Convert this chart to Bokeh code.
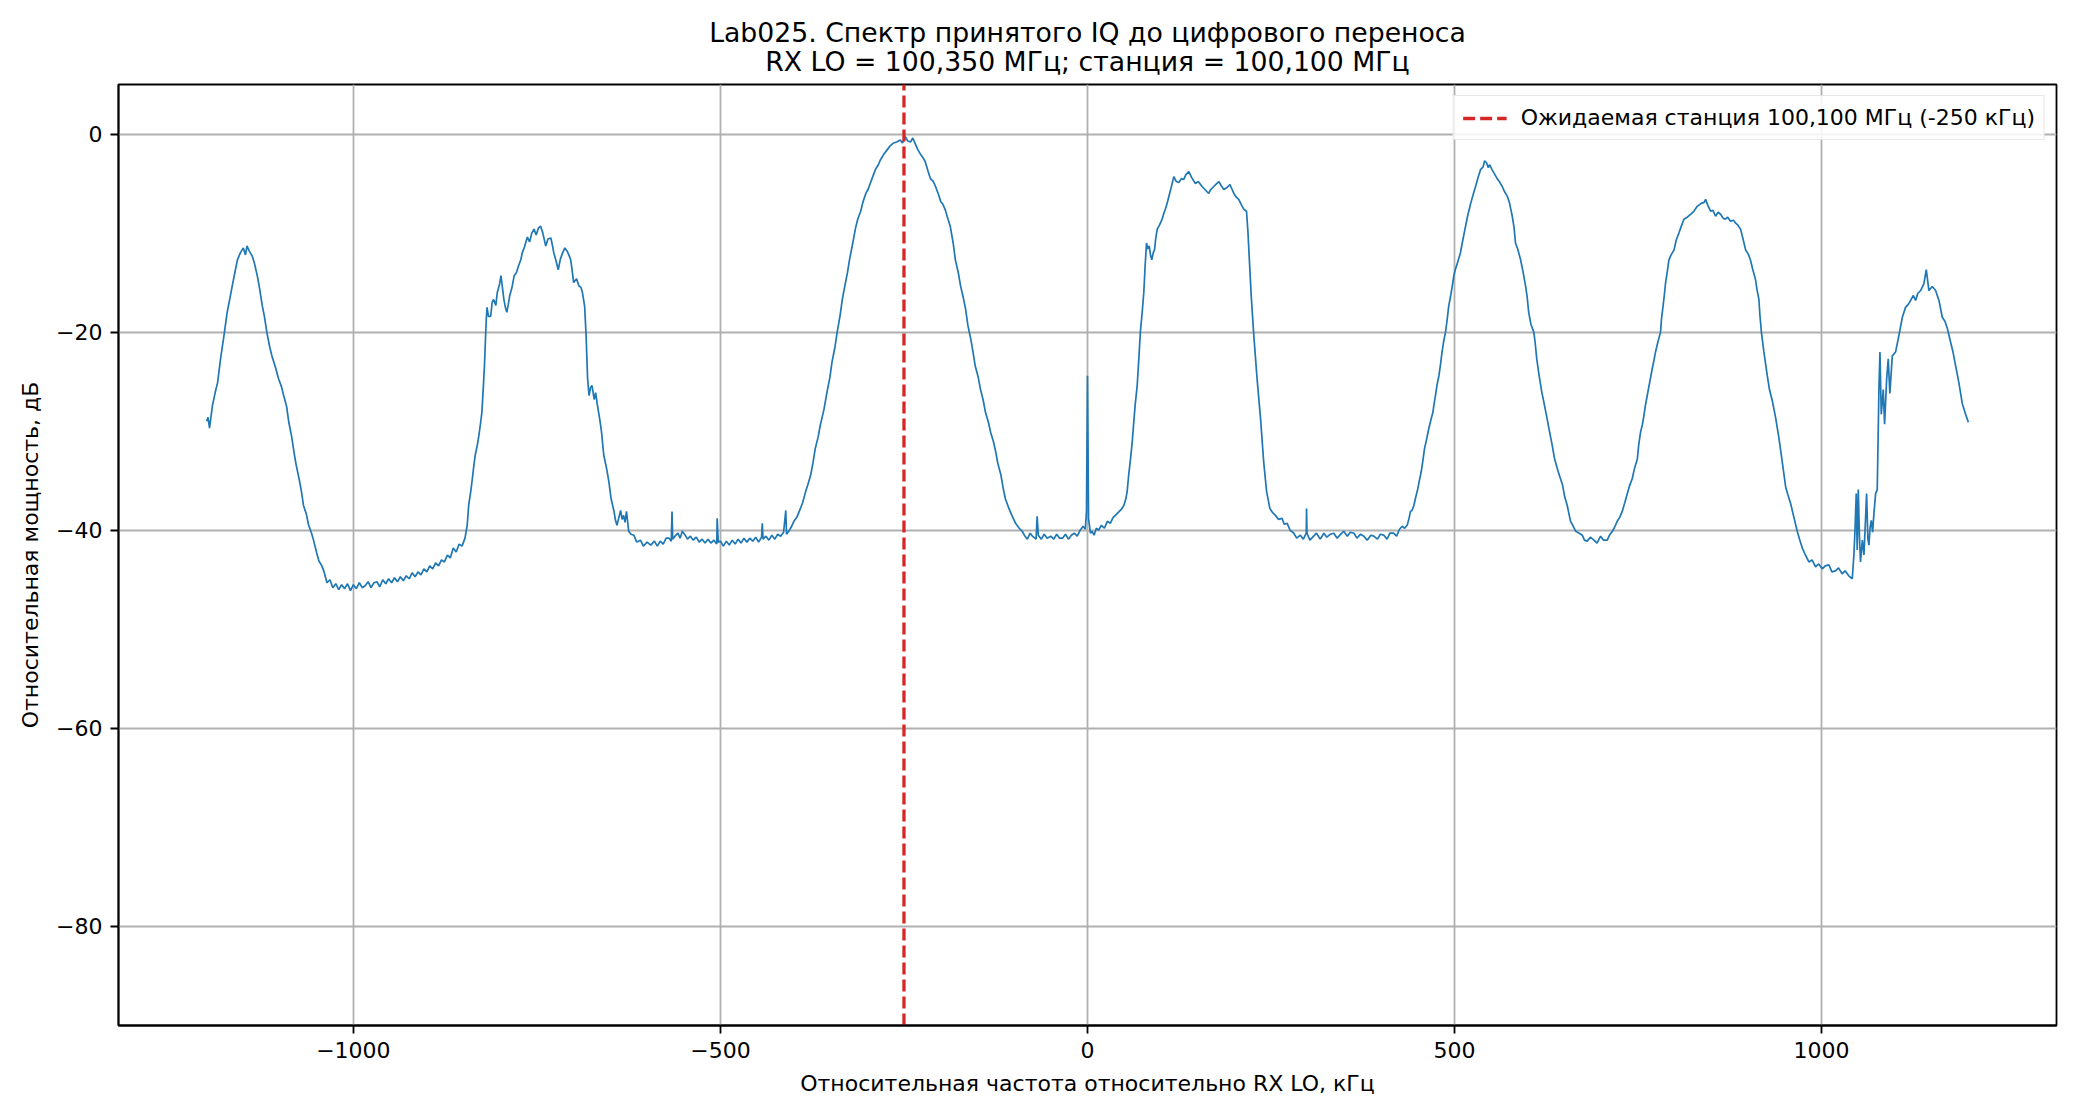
from bokeh.plotting import figure
from bokeh.models import Range1d, FixedTicker, Legend, LegendItem, Title
from bokeh.embed import file_html
from bokeh.resources import INLINE

# ---------------- texts ----------------
TITLE_LINE_1 = "Lab025. Спектр принятого IQ до цифрового переноса"
TITLE_LINE_2 = "RX LO = 100,350 МГц; станция = 100,100 МГц"
X_LABEL = "Относительная частота относительно RX LO, кГц"
Y_LABEL = "Относительная мощность, дБ"
LEGEND_LABEL = "Ожидаемая станция 100,100 МГц (-250 кГц)"

# ---------------- data ----------------
STATION_KHZ = -250
X_TICKS = [-1000, -500, 0, 500, 1000]
Y_TICKS = [-80, -60, -40, -20, 0]
Y_LIMITS = (-90, 5)

# (frequency kHz, power dB)
SPEC_1 = [(-1200, -29.0), (-1198, -28.6), (-1196, -29.7), (-1192, -27.4), (-1188, -26.0), (-1185, -25.1),
          (-1181, -22.7), (-1177, -20.7), (-1172, -18.0), (-1168, -16.5), (-1165, -15.3), (-1161, -13.8),
          (-1158, -12.7), (-1154, -12.0), (-1150, -11.5), (-1147, -12.2), (-1145, -11.3), (-1142, -11.8),
          (-1138, -12.3), (-1135, -13.0), (-1131, -14.3), (-1128, -15.5), (-1124, -17.4), (-1121, -18.5),
          (-1118, -20.0), (-1114, -21.5), (-1111, -22.4), (-1106, -23.6), (-1102, -24.7), (-1098, -25.5),
          (-1095, -26.4), (-1091, -27.5), (-1088, -29.1), (-1084, -30.6), (-1081, -32.1), (-1078, -33.4),
          (-1074, -34.8), (-1071, -36.0), (-1068, -37.5), (-1064, -38.4), (-1061, -39.5), (-1057, -40.3),
          (-1054, -41.1), (-1050, -42.3), (-1047, -43.1), (-1043, -43.6), (-1040, -44.2), (-1036, -45.3),
          (-1032, -45.0), (-1028, -45.8), (-1024, -45.4), (-1020, -46.0), (-1016, -45.5), (-1012, -45.9),
          (-1008, -45.4), (-1004, -46.1), (-1000, -45.5), (-996, -45.9), (-992, -45.3), (-988, -45.8),
          (-984, -45.6), (-980, -45.2), (-976, -45.8), (-972, -45.3), (-968, -45.2), (-964, -45.7),
          (-960, -45.0), (-956, -45.4), (-952, -44.9), (-948, -45.3), (-944, -44.8), (-940, -45.2),
          (-936, -44.7), (-932, -45.1), (-928, -44.6), (-924, -44.9), (-920, -44.3), (-916, -44.7),
          (-912, -44.2), (-908, -44.5), (-904, -43.9), (-900, -44.2), (-896, -43.6), (-892, -43.9),
          (-888, -43.3), (-884, -43.6), (-880, -43.0), (-876, -43.2), (-872, -42.5), (-868, -42.8),
          (-864, -41.8), (-860, -42.2), (-856, -41.4), (-852, -41.6), (-848, -40.8)]

SPEC_2 = [(-845, -39.5), (-843, -37.5), (-840, -36.0), (-838, -34.8), (-836, -33.5), (-834, -32.4),
          (-831, -31.3), (-829, -30.4), (-827, -29.3), (-825, -28.1), (-823, -25.5), (-821.5, -23.4),
          (-820, -20.5), (-819, -18.7), (-818, -17.5), (-816, -18.4), (-813, -18.4), (-811, -17.0),
          (-809, -16.7), (-806, -17.3), (-804, -16.0), (-801, -15.2), (-799, -14.3), (-797, -15.5),
          (-795, -16.7), (-793, -17.5), (-791, -18.0), (-789, -17.2), (-787, -16.3), (-784, -15.5),
          (-781, -14.3), (-778, -14.0), (-775, -13.3), (-772, -12.7), (-770, -12.0), (-767, -11.4),
          (-763, -10.4), (-760, -10.9), (-757, -10.0), (-754, -9.6), (-751, -10.2), (-748, -9.5),
          (-745, -9.3), (-742, -10.0), (-738, -11.3), (-735, -10.6), (-731, -10.5), (-729, -11.2),
          (-727, -12.0), (-724, -12.8), (-721, -13.7), (-718, -12.6), (-715, -12.0), (-712, -11.5),
          (-709, -11.8), (-706, -12.3), (-704, -12.7), (-702, -13.8), (-700, -15.0), (-696, -14.6),
          (-693, -15.3), (-690, -15.5), (-688, -16.0), (-685, -17.4), (-683, -20.4), (-681, -24.7),
          (-679, -26.4), (-677, -25.6), (-675, -25.4), (-672, -26.8), (-670, -26.1), (-668, -27.2),
          (-666, -28.1), (-664, -29.0), (-662, -30.1), (-659, -32.4), (-655, -33.8), (-652, -35.1),
          (-649, -36.8), (-645, -38.1), (-643, -39.0), (-641, -39.5), (-638, -38.6), (-636, -38.0),
          (-634, -38.9), (-632, -38.5), (-630, -39.2), (-628, -38.1), (-625, -40.1), (-622, -40.4),
          (-618, -40.5), (-614, -41.2), (-609, -41.0), (-605, -41.6), (-600, -41.2), (-595, -41.5),
          (-590, -41.1), (-586, -41.6), (-582, -41.1), (-578, -41.4), (-574, -40.8), (-570, -40.8),
          (-567, -41.1), (-566, -38.1), (-565, -40.9), (-562, -40.6), (-558, -40.3), (-555, -40.8),
          (-552, -40.1), (-548, -40.5), (-545, -40.9), (-541, -40.6), (-537, -41.0), (-533, -40.7),
          (-529, -41.2), (-525, -40.9), (-521, -41.3), (-517, -40.9), (-513, -41.3), (-509, -41.0),
          (-505, -41.4), (-504.5, -38.8), (-503, -41.2), (-500, -41.1), (-496, -41.6), (-492, -41.1),
          (-488, -41.5), (-484, -41.0), (-480, -41.4), (-476, -40.9), (-472, -41.3), (-468, -40.8),
          (-464, -41.2), (-460, -40.8), (-456, -41.1), (-452, -40.7), (-448, -41.2), (-444, -40.7),
          (-443, -39.3), (-442, -40.9), (-438, -40.6), (-434, -41.0), (-430, -40.5), (-426, -40.9),
          (-422, -40.4), (-418, -40.6), (-414, -40.2), (-411, -38.0), (-410, -40.4), (-406, -40.0),
          (-403, -39.6), (-400, -39.1)]

SPEC_3 = [(-396, -38.7), (-391, -37.8), (-388, -37.2), (-384, -36.1), (-381, -35.4), (-377, -34.4),
          (-374, -33.2), (-371, -31.8), (-367, -30.6), (-364, -29.4), (-359, -27.8), (-355, -26.1),
          (-351, -24.6), (-348, -23.0), (-344, -21.5), (-341, -20.0), (-337, -18.3), (-334, -16.7),
          (-331, -15.5), (-327, -14.0), (-324, -12.6), (-320, -11.1), (-316, -9.5), (-313, -8.6),
          (-309, -7.8), (-306, -6.9), (-302, -6.0), (-299, -5.6), (-296, -5.0), (-292, -4.2),
          (-289, -3.6), (-285, -3.1), (-282, -2.6), (-278, -2.1), (-273, -1.6), (-269, -1.2),
          (-264, -0.9), (-260, -0.8), (-255, -0.6), (-252, -0.9), (-248, -0.3), (-245, -0.7),
          (-241, -0.8), (-238, -0.4), (-234, -1.1), (-231, -1.6), (-227, -2.1), (-224, -2.4),
          (-221, -2.8), (-217, -3.8), (-214, -4.5), (-210, -4.8), (-207, -5.3), (-203, -6.1),
          (-200, -6.8), (-197, -7.1), (-194, -7.6), (-190, -8.6), (-187, -9.3), (-183, -11.0),
          (-180, -12.7), (-176, -14.0), (-173, -15.3), (-169, -16.6), (-166, -17.7), (-163, -19.3),
          (-159, -20.7), (-156, -22.0), (-153, -23.4), (-149, -24.5), (-146, -25.7), (-142, -26.9),
          (-139, -28.1), (-135, -29.1), (-132, -30.1), (-128, -31.1), (-125, -32.1), (-122, -33.3),
          (-118, -34.4), (-115, -35.7), (-112, -36.8), (-107, -37.8), (-103, -38.5), (-98, -39.3),
          (-93, -39.8), (-89, -40.1), (-86, -40.5), (-82, -40.9), (-78, -40.3), (-75, -40.6),
          (-70, -40.9), (-68.6, -38.6), (-67, -40.5), (-63, -40.9), (-59, -40.4), (-55, -40.8),
          (-50, -40.6), (-46, -40.9), (-42, -40.4), (-38, -40.8), (-34, -40.8), (-30, -40.4),
          (-26, -40.9), (-22, -40.5), (-18, -40.3), (-14, -40.6), (-10, -40.0), (-6, -39.6),
          (-3, -39.9), (-1.4, -38.1)]

SPEC_4 = [(0, -24.4), (1.4, -38.8), (4, -40.3), (6, -40.1), (9, -40.5), (12, -39.8), (15, -40.0),
          (19, -39.5), (23, -39.8), (27, -39.1), (31, -39.3), (35, -38.7), (38, -38.5), (42, -38.2),
          (46, -37.9), (49.5, -37.5), (52, -36.9), (54, -36.1), (56, -34.5), (58.6, -32.8), (61, -31.0),
          (63, -29.1), (65, -27.3), (67.7, -25.4), (70, -22.6), (72, -20.0), (74.5, -18.0), (76.7, -16.0),
          (78.5, -13.3), (80.4, -11.0), (82, -11.6), (84, -11.3), (86, -12.3), (87.6, -12.7), (89.5, -12.0),
          (91.3, -11.7), (93, -10.5), (95, -9.6), (98, -9.2), (101.7, -8.6), (104, -8.0), (106, -7.6),
          (108.5, -7.0), (110.8, -6.3), (114, -5.4), (117.6, -4.3), (121, -4.8), (124.4, -4.9),
          (128, -4.5), (131, -4.6), (134, -4.1), (138, -3.8), (142, -4.4), (147, -5.0), (151, -4.8),
          (156, -5.3), (160, -5.6), (165, -6.0), (168, -5.6), (172, -5.3), (176, -5.0), (179, -4.8),
          (182, -5.2), (185.7, -5.6), (190, -5.4), (194, -5.1), (197, -5.6), (199.4, -6.0), (203, -6.4),
          (206, -6.6), (210, -7.2), (213, -7.6), (216.6, -7.8), (218.5, -9.8), (220, -12.0), (223, -16.3),
          (226.6, -20.4), (231, -24.7), (235.7, -28.7), (240, -33.1), (244, -36.1), (248.4, -37.8),
          (252, -38.2), (256, -38.5), (260, -38.9), (265, -38.8), (268, -39.4), (272, -39.3),
          (276, -40.0), (281, -40.3), (285, -40.8), (290, -40.5), (294, -40.9), (298, -40.3),
          (298.4, -37.8)]

SPEC_5 = [(299, -40.3), (303, -41.0), (308, -40.6), (312, -40.3), (317, -40.9), (322, -40.3),
          (326, -40.7), (331, -40.4), (335.6, -40.3), (340, -40.8), (345, -40.4), (349, -40.1),
          (354, -40.6), (358, -40.2), (363, -40.3), (367, -40.8), (372, -40.4), (376.5, -40.6),
          (381, -41.0), (386, -40.5), (390, -40.6), (395, -40.9), (399, -40.4), (403.7, -40.5),
          (408, -40.9), (412, -40.3), (417, -40.3), (421, -40.6), (425, -39.9), (428.7, -39.6),
          (432, -39.8), (435.5, -39.5), (438, -38.8), (440, -38.1), (442, -38.0), (444.6, -37.5),
          (447, -36.7), (450, -35.8), (452, -35.0), (454.6, -34.1), (457, -32.9), (459, -31.8),
          (462, -30.8), (465, -29.7), (468, -28.8), (470.5, -28.1), (472, -27.3), (474, -26.4),
          (476, -25.4), (478.7, -24.4), (481, -23.2), (483, -22.0), (485, -21.0), (487.7, -20.0),
          (490, -18.7), (492, -17.4), (495, -16.2), (497, -15.3), (499, -14.3), (501, -13.7),
          (504, -13.0), (508, -12.0), (511, -10.8), (515, -9.3), (518, -8.2), (522, -7.0), (525, -6.2),
          (528.6, -5.3), (532, -4.4), (535.4, -3.6), (539, -3.3), (541, -2.7), (543.6, -2.9),
          (546, -3.4), (548, -3.1), (551, -3.6), (555, -4.1), (558, -4.5), (561, -4.8), (565, -5.3),
          (568, -5.8), (572, -6.3), (575, -7.0), (578.6, -8.3), (581, -9.4), (583, -11.0), (586, -11.6),
          (590, -12.7), (593, -13.8), (596.7, -15.3), (599, -16.5), (601, -18.0), (604, -19.2),
          (608, -20.0), (610, -21.2), (612, -22.7), (615, -24.3), (619, -26.1), (622, -27.2),
          (626, -28.7), (629, -29.9), (633, -31.4), (636, -32.7), (640, -33.8), (643, -34.5),
          (647, -35.4), (650, -36.6), (653.5, -37.5), (656, -38.4), (658, -39.1), (661, -39.5),
          (665, -40.1), (670, -40.3), (674, -40.5), (677, -41.0), (680.7, -41.1), (685, -40.7),
          (690, -41.0), (694, -41.3), (699, -40.6)]

SPEC_6 = [(703, -41.0), (708, -41.0), (711, -40.5), (715, -40.1), (718, -39.7), (721.6, -39.1),
          (725, -38.7), (728.4, -38.1), (732, -37.2), (735, -36.4), (738, -35.6), (742, -34.8),
          (745, -33.8), (749, -32.8), (751, -31.3), (753.4, -30.1), (756, -29.3), (758, -28.4),
          (760, -27.4), (762.5, -26.4), (766, -25.0), (769.3, -23.7), (771.5, -22.9), (773.8, -22.0),
          (777, -21.0), (780.6, -20.0), (782, -18.6), (784, -17.4), (786, -16.1), (787.5, -15.0),
          (790, -13.8), (792, -12.7), (795, -12.2), (799, -11.7), (802, -10.7), (805.6, -10.0),
          (809, -9.3), (812.4, -8.6), (817, -8.4), (821.5, -8.1), (826, -7.8), (830.6, -7.3),
          (836, -7.0), (840, -6.9), (842, -6.6), (845, -7.2), (849, -7.8), (852, -7.7), (855.6, -8.3),
          (859, -7.9), (862.4, -8.1), (866, -8.5), (869, -8.6), (872, -8.4), (876, -8.8), (880, -8.7),
          (883, -9.0), (886, -9.2), (889.6, -9.6), (893, -10.6), (896.5, -11.7), (900, -12.1),
          (903, -12.7), (906, -13.6), (910, -14.7), (912, -15.7), (914.6, -16.7), (916, -18.3),
          (918, -20.0), (921.4, -22.0), (926, -24.4), (929, -25.8), (932.8, -26.9), (937.3, -28.6),
          (941.9, -30.7), (946.4, -33.1), (951, -35.6), (954, -36.4), (957.8, -37.3), (962.3, -38.7),
          (966.8, -40.1), (970, -40.9), (973.7, -41.8), (978, -42.5), (982.7, -43.2), (987, -43.0),
          (991.8, -43.7), (996, -43.4), (1000.9, -43.9), (1005, -43.6), (1010, -43.5), (1014, -44.2),
          (1019, -44.1), (1023, -43.8), (1028, -44.4), (1032, -44.1), (1037, -44.6), (1041.8, -44.9),
          (1044, -42.5), (1045.5, -40.0), (1047.2, -36.3), (1048.5, -42.0), (1050, -35.9), (1051.5, -40.5),
          (1053, -43.2), (1055.5, -41.0), (1057.7, -42.5), (1059.5, -39.5), (1061.3, -36.3),
          (1063, -40.8), (1064.5, -41.5), (1066, -39.8), (1067.7, -39.0), (1069.5, -40.2),
          (1071.3, -38.3), (1073.6, -36.3), (1075.8, -35.9), (1078.1, -25.8), (1079.5, -22.0),
          (1081.3, -28.3), (1084, -25.8), (1085.8, -29.3), (1088.6, -24.8), (1090.8, -22.7),
          (1093, -26.2), (1096.3, -22.4), (1100.8, -22.0), (1105.4, -20.3), (1110, -18.5),
          (1114.4, -17.5), (1118, -17.2), (1121.3, -16.8), (1125, -16.3), (1128, -16.8), (1131, -16.1),
          (1134.9, -15.8), (1139.4, -15.1), (1142.6, -13.7), (1146.2, -15.8), (1150.8, -15.4),
          (1155.3, -15.8), (1159.9, -16.8), (1164.4, -18.5), (1168, -18.9), (1171.2, -19.6),
          (1175.7, -21.0), (1179, -22.0), (1182.6, -23.4), (1187, -25.1), (1191.6, -27.2),
          (1196.2, -28.3), (1200, -29.1)]

SPECTRUM = SPEC_1 + SPEC_2 + SPEC_3 + SPEC_4 + SPEC_5 + SPEC_6
freq_khz = [f for f, _ in SPECTRUM]
power_db = [v for _, v in SPECTRUM]

# ---------------- styling ----------------
FONT = "DejaVu Sans"
BLUE = "#1f77b4"
RED = "#d62728"
GRID = "#b0b0b0"

x_span = max(freq_khz) - min(freq_khz)
x_pad = 0.05 * x_span

p = figure(width=2064, height=1104, output_backend="svg", toolbar_location=None,
           x_range=Range1d(min(freq_khz) - x_pad, max(freq_khz) + x_pad),
           y_range=Range1d(*Y_LIMITS),
           min_border_left=118, min_border_right=8, min_border_top=84, min_border_bottom=79,
           background_fill_color="white", border_fill_color="white")

p.title = None
# closest to the plot first, then the line above it
p.add_layout(Title(text=TITLE_LINE_2, align="center", text_font=FONT, text_font_size="26.7px",
                   text_font_style="normal", text_color="black", standoff=16), "above")
p.add_layout(Title(text=TITLE_LINE_1, align="center", text_font=FONT, text_font_size="26.7px",
                   text_font_style="normal", text_color="black", standoff=-24), "above")

p.outline_line_color = "black"
p.outline_line_width = 1.8

p.line(freq_khz, power_db, line_color=BLUE, line_width=1.7)

station_line = p.line(x=[STATION_KHZ, STATION_KHZ], y=list(Y_LIMITS), line_color=RED,
                      line_width=3.3, line_dash="12 5")

legend = Legend(items=[LegendItem(label=LEGEND_LABEL, renderers=[station_line])],
                location="top_right", label_text_font=FONT, label_text_font_size="22px",
                label_text_color="black", glyph_width=44, glyph_height=22, label_standoff=14,
                padding=9, spacing=0, margin=11,
                border_line_color="#d0d0d0", border_line_width=1.8,
                background_fill_color="white", background_fill_alpha=0.85)
p.add_layout(legend, "center")

for ax, ticks in ((p.xaxis, X_TICKS), (p.yaxis, Y_TICKS)):
    ax.ticker = FixedTicker(ticks=ticks)
    ax.major_label_overrides = {t: str(t).replace("-", "\u2212") for t in ticks}
    ax.major_label_text_font = FONT
    ax.major_label_text_font_size = "22px"
    ax.major_label_text_color = "black"
    ax.axis_label_text_font = FONT
    ax.axis_label_text_font_size = "22px"
    ax.axis_label_text_font_style = "normal"
    ax.axis_label_text_color = "black"
    ax.axis_line_color = "black"
    ax.axis_line_width = 1.8
    ax.major_tick_line_color = "black"
    ax.major_tick_line_width = 1.8
    ax.major_tick_out = 8
    ax.major_tick_in = 0
    ax.minor_tick_line_color = None
    ax.major_label_standoff = 8
    ax.axis_label_standoff = 10

p.xaxis.axis_label = X_LABEL
p.yaxis.axis_label = Y_LABEL

p.xgrid.ticker = FixedTicker(ticks=X_TICKS)
p.ygrid.ticker = FixedTicker(ticks=Y_TICKS)
p.grid.grid_line_color = GRID
p.grid.grid_line_width = 1.8

open("out.html", "w").write(file_html(p, INLINE))
